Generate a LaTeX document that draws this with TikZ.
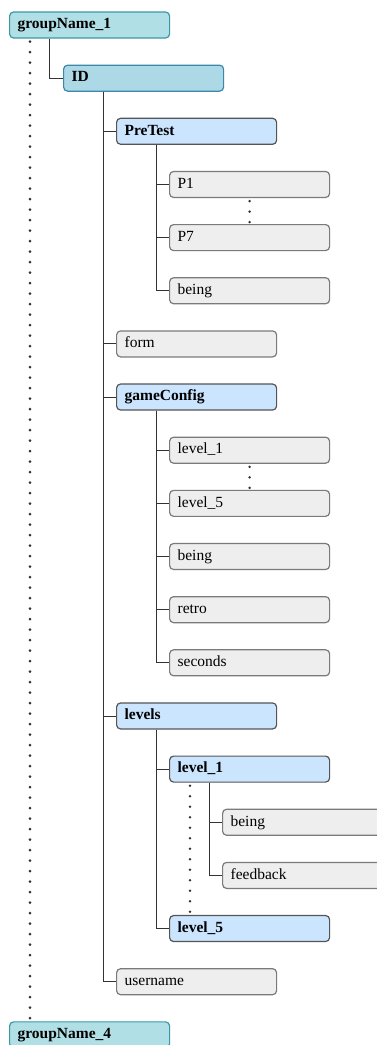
\documentclass[tikz,border=0pt]{standalone}
\usepackage{fontspec}
\setmainfont{Liberation Serif}
\usetikzlibrary{positioning}
\definecolor{groupfill}{HTML}{B0E0E6}
\definecolor{groupline}{HTML}{3A98A8}
\definecolor{idfill}{HTML}{ADD8E6}
\definecolor{idline}{HTML}{3A88AA}
\definecolor{keyfill}{HTML}{CCE5FF}
\definecolor{keyline}{HTML}{555555}
\definecolor{leaffill}{HTML}{EEEEEE}
\definecolor{leafline}{HTML}{7A7A7A}
\definecolor{wire}{HTML}{333333}

\begin{document}
\begin{tikzpicture}[x=1pt,y=-53.15pt,
	box/.style={anchor=west,rounded corners=4pt,line width=1.2pt,text width=144pt,align=left,inner xsep=8pt,minimum height=26pt,text height=11pt,text depth=3.5pt,font=\fontsize{15.5}{18}\selectfont},
	groupbox/.style={box,fill=groupfill,draw=groupline,font=\fontsize{15.5}{18}\selectfont\bfseries},
	idbox/.style={box,fill=idfill,draw=idline,font=\fontsize{15.5}{18}\selectfont\bfseries},
	keybox/.style={box,fill=keyfill,draw=keyline,font=\fontsize{15.5}{18}\selectfont\bfseries},
	leafbox/.style={box,fill=leaffill,draw=leafline},
	link/.style={draw=wire,line width=0.9pt},
	dots/.style={draw=wire,line width=2.8pt,line cap=round,dash pattern=on 0pt off 10.5pt}]
	\path[use as bounding box] (0pt,25pt) rectangle (377pt,-1020pt);
	\clip (0pt,25pt) rectangle (377pt,-1020pt);
	\node (groupName1) [groupbox] at (9,0) {groupName\_1};
	\node (ID) [idbox] at (63,1) {ID};
	\node (PreTest) [keybox] at (116,2) {PreTest};
	\node (P1) [leafbox] at (169,3) {P1};
	\node (P7) [leafbox] at (169,4) {P7};
	\node (preBeing) [leafbox] at (169,5) {being};
	\node (form) [leafbox] at (116,6) {form};
	\node (gameConfig) [keybox] at (116,7) {gameConfig};
	\node (cfgLevel1) [leafbox] at (169,8) {level\_1};
	\node (cfgLevel5) [leafbox] at (169,9) {level\_5};
	\node (cfgBeing) [leafbox] at (169,10) {being};
	\node (retro) [leafbox] at (169,11) {retro};
	\node (seconds) [leafbox] at (169,12) {seconds};
	\node (levels) [keybox] at (116,13) {levels};
	\node (lvl1) [keybox] at (169,14) {level\_1};
	\node (lvlBeing) [leafbox] at (222,15) {being};
	\node (feedback) [leafbox] at (222,16) {feedback};
	\node (lvl5) [keybox] at (169,17) {level\_5};
	\node (username) [leafbox] at (116,18) {username};
	\node (groupName4) [groupbox] at (9,19) {groupName\_4};

	\draw[link] ([xshift=40pt]groupName1.south west) |- (ID.west);
	\foreach \kid in {PreTest,form,gameConfig,levels,username}
		\draw[link] ([xshift=40pt]ID.south west) |- (\kid.west);
	\foreach \kid in {P1,P7,preBeing}
		\draw[link] ([xshift=40pt]PreTest.south west) |- (\kid.west);
	\foreach \kid in {cfgLevel1,cfgLevel5,cfgBeing,retro,seconds}
		\draw[link] ([xshift=40pt]gameConfig.south west) |- (\kid.west);
	\foreach \kid in {lvl1,lvl5}
		\draw[link] ([xshift=40pt]levels.south west) |- (\kid.west);
	\foreach \kid in {lvlBeing,feedback}
		\draw[link] ([xshift=40pt]lvl1.south west) |- (\kid.west);

	\draw[dots] ([xshift=21pt,yshift=-3pt]groupName1.south west) -- ([xshift=21pt]groupName4.north west);
	\draw[dots] ([xshift=21pt,yshift=-3pt]lvl1.south west) -- ([xshift=21pt]lvl5.north west);
	\draw[dots] ([yshift=-3pt]P1.south) -- (P7.north);
	\draw[dots] ([yshift=-3pt]cfgLevel1.south) -- (cfgLevel5.north);
\end{tikzpicture}
\end{document}
